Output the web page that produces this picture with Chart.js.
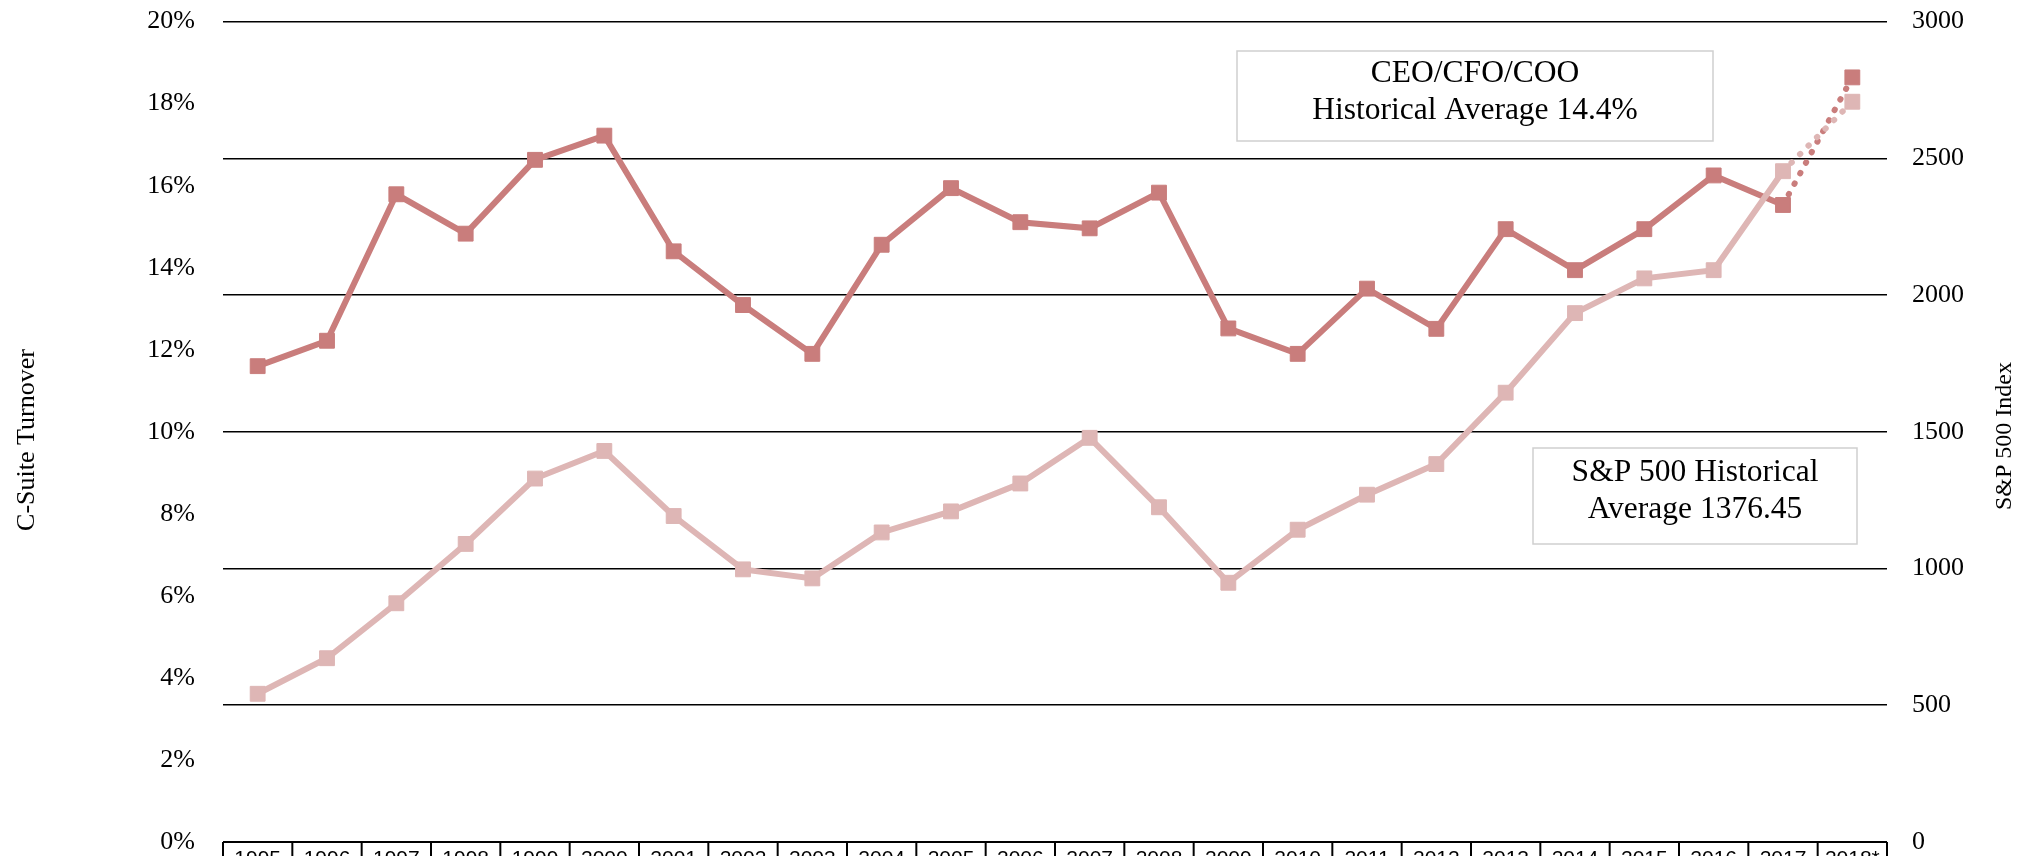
<!DOCTYPE html>
<html><head><meta charset="utf-8">
<script src="https://cdn.jsdelivr.net/npm/chart.js@4"></script>
<style>
html,body{margin:0;padding:0;background:#fff;overflow:hidden;}
#wrap{position:relative;width:2026px;height:856px;overflow:hidden;background:#fff;}
#c{display:block;position:absolute;left:0;top:0;}
</style></head><body>
<div id="wrap"><canvas id="c" width="2026" height="920" style="width:2026px;height:920px"></canvas></div>
<script>
const years = ['1995','1996','1997','1998','1999','2000','2001','2002','2003','2004','2005','2006','2007','2008','2009','2010','2011','2012','2013','2014','2015','2016','2017','2018*'];
const turnover = [11.6,12.22,15.79,14.83,16.63,17.22,14.4,13.09,11.9,14.56,15.94,15.11,14.96,15.83,12.52,11.9,13.49,12.51,14.94,13.94,14.94,16.25,15.53,18.64];
const sp500 = [542,672,873,1090,1329,1430,1192,997,964,1132,1209,1311,1478,1224,948,1142,1270,1382,1643,1934,2061,2091,2453,2707];
const leftTitle = 'C-Suite Turnover';
const rightTitle = 'S&P 500 Index';
const note1 = ['CEO/CFO/COO','Historical Average 14.4%'];
const note2 = ['S&P 500 Historical','Average 1376.45'];

const DARK = '#C97D7C';
const LIGHT = '#DEB6B5';
const SERIF = '"Liberation Serif", "DejaVu Serif", serif';
const SANS = '"Liberation Sans", Arial, sans-serif';
const CANVAS_H = 920;
const PLOT_TOP = 22, PLOT_BOTTOM = 842;
let shift = 0;
let xAxisHeight = CANVAS_H - PLOT_BOTTOM;

const lastDotted = (ctx) => ctx.p1DataIndex === years.length - 1;

const decor = {
  id: 'decor',
  afterDraw(chart) {
    const {ctx, chartArea, scales: {x}} = chart;
    ctx.save();
    ctx.strokeStyle = '#000';
    ctx.lineWidth = 2;
    const n = years.length;
    const half = (x.getPixelForValue(1) - x.getPixelForValue(0)) / 2;
    for (let i = 0; i <= n; i++) {
      const px = i < n ? x.getPixelForValue(i) - half : x.getPixelForValue(n - 1) + half;
      ctx.beginPath();
      ctx.moveTo(px, chartArea.bottom);
      ctx.lineTo(px, chart.height);
      ctx.stroke();
    }
    ctx.beginPath();
    ctx.moveTo(chartArea.left, chartArea.bottom);
    ctx.lineTo(chartArea.right, chartArea.bottom);
    ctx.stroke();

    const s = shift;
    const box = (x0, y0, x1, y1, lines, ys) => {
      ctx.fillStyle = '#fff';
      ctx.fillRect(x0, y0 + s, x1 - x0, y1 - y0);
      ctx.strokeStyle = '#cfcfcf';
      ctx.lineWidth = 1.5;
      ctx.strokeRect(x0, y0 + s, x1 - x0, y1 - y0);
      ctx.fillStyle = '#000';
      ctx.font = '31.5px ' + SERIF;
      ctx.textAlign = 'center';
      ctx.textBaseline = 'middle';
      lines.forEach((t, i) => ctx.fillText(t, (x0 + x1) / 2, ys[i] + s));
    };
    box(1237, 51, 1713, 141, note1, [74, 111]);
    box(1533, 448, 1857, 544, note2, [473, 510]);

    ctx.fillStyle = '#000';
    ctx.textAlign = 'center';
    ctx.textBaseline = 'middle';
    ctx.save();
    ctx.font = '26px ' + SERIF;
    ctx.translate(27, 440 + s);
    ctx.rotate(-Math.PI / 2);
    ctx.fillText(leftTitle, 0, 0);
    ctx.restore();
    ctx.save();
    ctx.font = '24px ' + SERIF;
    ctx.translate(2005, 436 + s);
    ctx.rotate(-Math.PI / 2);
    ctx.fillText(rightTitle, 0, 0);
    ctx.restore();
    ctx.restore();
  }
};

const canvas = document.getElementById('c');
const chart = new Chart(canvas, {
  type: 'line',
  data: {
    labels: years,
    datasets: [
      {
        label: 'S&P 500 Index',
        data: sp500,
        yAxisID: 'yR',
        borderColor: LIGHT,
        backgroundColor: LIGHT,
        borderWidth: 6,
        pointStyle: 'rect',
        pointRadius: 10.5,
        pointHoverRadius: 10.5,
        pointBorderWidth: 1,
        pointBorderColor: LIGHT,
        tension: 0,
        segment: {
          borderDash: ctx => lastDotted(ctx) ? [0.5, 11.5] : undefined,
          borderCapStyle: ctx => lastDotted(ctx) ? 'round' : 'butt'
        }
      },
      {
        label: 'C-Suite Turnover',
        data: turnover,
        yAxisID: 'yL',
        borderColor: DARK,
        backgroundColor: DARK,
        borderWidth: 6,
        pointStyle: 'rect',
        pointRadius: 10.5,
        pointHoverRadius: 10.5,
        pointBorderWidth: 1,
        pointBorderColor: DARK,
        tension: 0,
        segment: {
          borderDash: ctx => lastDotted(ctx) ? [0.5, 11.5] : undefined,
          borderCapStyle: ctx => lastDotted(ctx) ? 'round' : 'butt'
        }
      }
    ]
  },
  options: {
    responsive: false,
    animation: false,
    devicePixelRatio: 1,
    layout: {padding: {top: 1, left: 0, right: 0, bottom: 0}},
    plugins: {legend: {display: false}, tooltip: {enabled: false}},
    scales: {
      x: {
        type: 'category',
        offset: true,
        grid: {display: false},
        border: {display: false},
        ticks: {
          autoSkip: false, maxRotation: 0, minRotation: 0,
          color: '#000', padding: -3,
          font: {family: SANS, size: 21}
        },
        afterFit: sc => { sc.height = xAxisHeight; }
      },
      yL: {
        position: 'left',
        min: 0, max: 20,
        grid: {display: false},
        border: {display: false},
        ticks: {
          stepSize: 2, color: '#000', padding: 20,
          font: {family: SERIF, size: 26},
          callback: v => v + '%'
        },
        afterFit: sc => { sc.width = 223; }
      },
      yR: {
        position: 'right',
        min: 0, max: 3000,
        grid: {display: true, color: '#000', lineWidth: 1.6, drawTicks: false},
        border: {display: false},
        ticks: {
          stepSize: 500, color: '#000', padding: 25,
          font: {family: SERIF, size: 26},
          callback: v => String(v)
        },
        afterFit: sc => { sc.width = 139; }
      }
    }
  },
  plugins: [decor]
});

// align the plot area with the page: top at PLOT_TOP, bottom at PLOT_BOTTOM
shift = Math.round(chart.chartArea.top - PLOT_TOP);
xAxisHeight = CANVAS_H - (PLOT_BOTTOM + shift);
chart.update();
canvas.style.top = (-shift) + 'px';
</script>
</body></html>
